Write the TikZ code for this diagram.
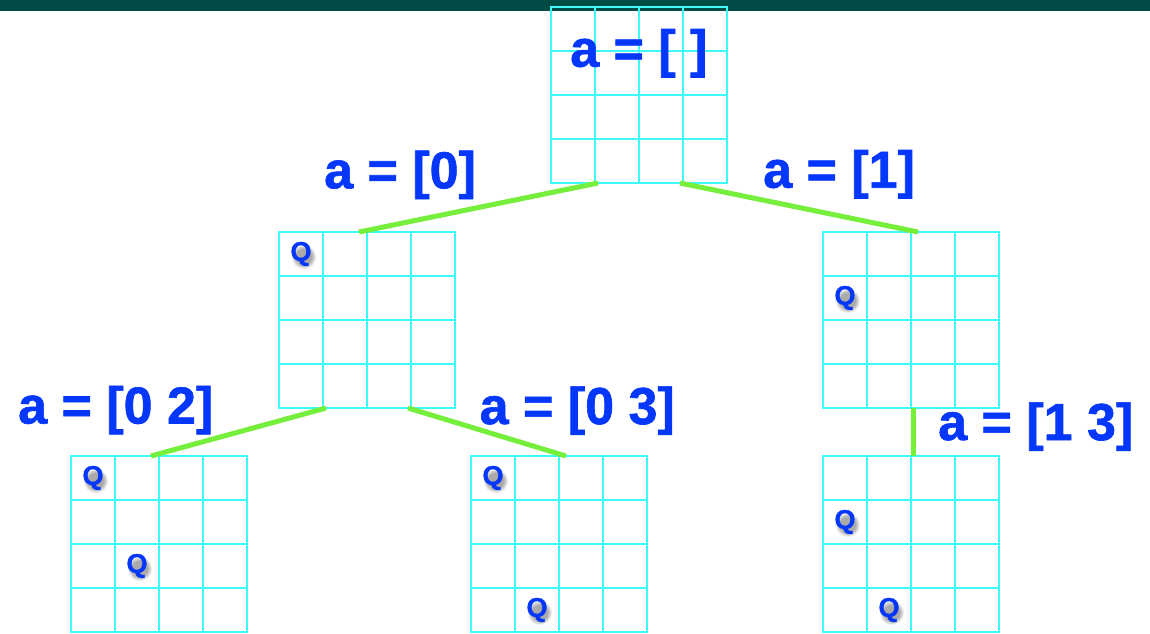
\documentclass[tikz,border=0pt]{standalone}
\usepackage{fontspec}
\setmainfont{Liberation Sans}
\newfontfamily\labfont{Liberation Sans}[BoldFeatures={FakeBold=1.2}]
\usetikzlibrary{calc}
\definecolor{barcol}{RGB}{0,75,69}
\definecolor{gridcol}{RGB}{60,250,250}
\definecolor{labcol}{RGB}{5,55,250}
\definecolor{linkcol}{RGB}{118,238,60}
\tikzset{
  board/.style={draw=gridcol, line width=1.2pt, minimum size=176pt, inner sep=0pt, outer sep=0pt},
  gline/.style={draw=gridcol, line width=1.2pt},
  link/.style={draw=linkcol, line width=5pt},
  lab/.style={text=labcol, font=\labfont\bfseries\fontsize{52}{60}\selectfont, inner sep=0pt, anchor=base west},
  qtext/.style={text=labcol, font=\labfont\bfseries\fontsize{27}{30}\selectfont, inner sep=0pt},
  qshade/.style={fill=black, opacity=0.08},
}
\newcommand\mkboard[2]{%
  \node[board] (#1) at (#2) {};
  \foreach \i in {1,2,3}{
    \draw[gline] ([xshift=\i*44pt]#1.north west) -- ([xshift=\i*44pt]#1.south west);
    \draw[gline] ([yshift=-\i*44pt]#1.north west) -- ([yshift=-\i*44pt]#1.north east);
  }%
}
\newcommand\mkqueen[4]{%
  \coordinate (#1) at ([xshift=#3*44pt+22pt, yshift=-#4*44pt-22pt]#2.north west);
  \foreach \r in {12,11,10,9,8}{
    \fill[qshade] ([xshift=3pt,yshift=-3pt]#1) circle[radius=\r pt];
  }
  \node[qtext] (#1q) at (#1) {Q};
}
\begin{document}
\begin{tikzpicture}[x=1pt,y=-1pt]
\useasboundingbox (0,0) rectangle (1150,633);
\fill[barcol] (0,0) rectangle (1150,10.5);
% boards
\mkboard{g0}{639,95}
\mkboard{g1}{367,320}
\mkboard{g2}{911,320}
\mkboard{g3}{159,544}
\mkboard{g4}{559,544}
\mkboard{g5}{911,544}
% connectors
\draw[link] ([xshift=47pt]g0.south west) -- ([xshift=80pt]g1.north west);
\draw[link] ([xshift=129pt]g0.south west) -- ([xshift=95pt]g2.north west);
\draw[link] ([xshift=47pt]g1.south west) -- ([xshift=80pt]g3.north west);
\draw[link] ([xshift=129pt]g1.south west) -- ([xshift=95pt]g4.north west);
\draw[link] ([xshift=90pt]g2.south west) -- ([xshift=90pt]g5.north west);
% labels
\node[lab] (l0) at (570,66.7) {a = [ ]};
\node[lab] (l1) at (324,188.3) {a = [0]};
\node[lab] (l2) at (763,187.7) {a = [1]};
\node[lab] (l3) at (18,423.5) {a = [0 2]};
\node[lab] (l4) at (479.5,424) {a = [0 3]};
\node[lab] (l5) at (938,440) {a = [1 3]};
% queens
\mkqueen{q1}{g1}{0}{0}
\mkqueen{q2}{g2}{0}{1}
\mkqueen{q3}{g3}{0}{0}
\mkqueen{q4}{g3}{1}{2}
\mkqueen{q5}{g4}{0}{0}
\mkqueen{q6}{g4}{1}{3}
\mkqueen{q7}{g5}{0}{1}
\mkqueen{q8}{g5}{1}{3}
\end{tikzpicture}
\end{document}
